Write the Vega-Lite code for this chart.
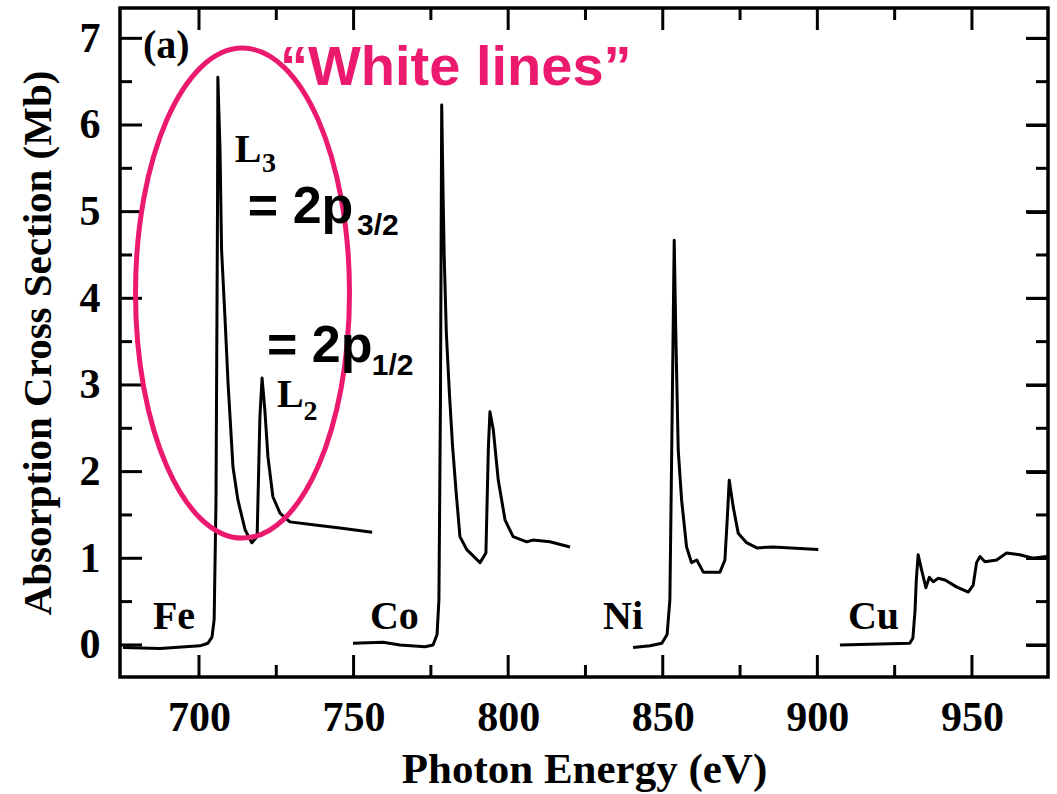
{
  "$schema": "https://vega.github.io/schema/vega-lite/v6.json",
  "width": 928,
  "height": 669,
  "autosize": {"type": "none"},
  "padding": {"left": 120, "top": 8, "right": 9, "bottom": 117},
  "background": "white",
  "config": {
    "view": {"stroke": "black", "strokeWidth": 3.5},
    "axis": {
      "grid": false,
      "domain": false,
      "ticks": false,
      "labelFont": "Liberation Serif",
      "labelFontWeight": "bold",
      "labelFontSize": 42,
      "labelColor": "black",
      "labelOverlap": false,
      "labelFlush": false,
      "titleFont": "Liberation Serif",
      "titleFontWeight": "bold",
      "titleFontSize": 43,
      "titleColor": "black"
    }
  },
  "layer": [
    {
      "data": {"values": [
        {"element": "Fe", "energy": 675.4, "value": -0.03},
        {"element": "Fe", "energy": 687.4, "value": -0.04},
        {"element": "Fe", "energy": 700.3, "value": -0.01},
        {"element": "Fe", "energy": 702.9, "value": 0.02},
        {"element": "Fe", "energy": 704.2, "value": 0.09},
        {"element": "Fe", "energy": 704.9, "value": 0.29},
        {"element": "Fe", "energy": 705.5, "value": 1.67},
        {"element": "Fe", "energy": 706.0, "value": 5.13},
        {"element": "Fe", "energy": 706.1, "value": 6.55},
        {"element": "Fe", "energy": 706.8, "value": 5.71},
        {"element": "Fe", "energy": 707.3, "value": 4.56},
        {"element": "Fe", "energy": 708.4, "value": 3.78},
        {"element": "Fe", "energy": 709.4, "value": 3.02},
        {"element": "Fe", "energy": 711.0, "value": 2.05},
        {"element": "Fe", "energy": 712.6, "value": 1.67},
        {"element": "Fe", "energy": 714.9, "value": 1.33},
        {"element": "Fe", "energy": 717.1, "value": 1.18},
        {"element": "Fe", "energy": 718.8, "value": 1.25},
        {"element": "Fe", "energy": 719.7, "value": 2.63},
        {"element": "Fe", "energy": 720.4, "value": 3.08},
        {"element": "Fe", "energy": 721.3, "value": 2.71},
        {"element": "Fe", "energy": 722.3, "value": 2.17},
        {"element": "Fe", "energy": 723.9, "value": 1.71},
        {"element": "Fe", "energy": 726.2, "value": 1.52},
        {"element": "Fe", "energy": 729.4, "value": 1.42},
        {"element": "Fe", "energy": 738.2, "value": 1.38},
        {"element": "Fe", "energy": 745.6, "value": 1.35},
        {"element": "Fe", "energy": 756.0, "value": 1.30},
        {"element": "Co", "energy": 749.8, "value": 0.02},
        {"element": "Co", "energy": 759.5, "value": 0.03},
        {"element": "Co", "energy": 765.0, "value": 0.0},
        {"element": "Co", "energy": 773.1, "value": -0.02},
        {"element": "Co", "energy": 775.7, "value": 0.0},
        {"element": "Co", "energy": 777.0, "value": 0.12},
        {"element": "Co", "energy": 777.6, "value": 0.52},
        {"element": "Co", "energy": 778.1, "value": 2.83},
        {"element": "Co", "energy": 778.5, "value": 6.23},
        {"element": "Co", "energy": 778.9, "value": 5.3},
        {"element": "Co", "energy": 779.3, "value": 4.5},
        {"element": "Co", "energy": 780.0, "value": 3.6},
        {"element": "Co", "energy": 781.0, "value": 2.9},
        {"element": "Co", "energy": 782.0, "value": 2.3},
        {"element": "Co", "energy": 783.2, "value": 1.75},
        {"element": "Co", "energy": 784.4, "value": 1.25},
        {"element": "Co", "energy": 786.6, "value": 1.10},
        {"element": "Co", "energy": 790.9, "value": 0.95},
        {"element": "Co", "energy": 792.8, "value": 1.06},
        {"element": "Co", "energy": 793.6, "value": 2.28},
        {"element": "Co", "energy": 794.1, "value": 2.69},
        {"element": "Co", "energy": 795.2, "value": 2.48},
        {"element": "Co", "energy": 796.8, "value": 1.90},
        {"element": "Co", "energy": 799.0, "value": 1.44},
        {"element": "Co", "energy": 801.6, "value": 1.25},
        {"element": "Co", "energy": 806.0, "value": 1.19},
        {"element": "Co", "energy": 808.0, "value": 1.21},
        {"element": "Co", "energy": 813.5, "value": 1.19},
        {"element": "Co", "energy": 820.0, "value": 1.13},
        {"element": "Ni", "energy": 840.4, "value": -0.03},
        {"element": "Ni", "energy": 845.9, "value": -0.01},
        {"element": "Ni", "energy": 849.7, "value": 0.02},
        {"element": "Ni", "energy": 851.4, "value": 0.12},
        {"element": "Ni", "energy": 852.3, "value": 0.52},
        {"element": "Ni", "energy": 852.9, "value": 2.25},
        {"element": "Ni", "energy": 853.7, "value": 4.67},
        {"element": "Ni", "energy": 854.2, "value": 3.63},
        {"element": "Ni", "energy": 855.0, "value": 2.25},
        {"element": "Ni", "energy": 856.1, "value": 1.67},
        {"element": "Ni", "energy": 857.7, "value": 1.13},
        {"element": "Ni", "energy": 859.3, "value": 0.95},
        {"element": "Ni", "energy": 861.0, "value": 0.98},
        {"element": "Ni", "energy": 863.1, "value": 0.84},
        {"element": "Ni", "energy": 868.5, "value": 0.84},
        {"element": "Ni", "energy": 870.1, "value": 0.98},
        {"element": "Ni", "energy": 870.9, "value": 1.48},
        {"element": "Ni", "energy": 871.5, "value": 1.90},
        {"element": "Ni", "energy": 872.8, "value": 1.59},
        {"element": "Ni", "energy": 874.4, "value": 1.29},
        {"element": "Ni", "energy": 877.1, "value": 1.18},
        {"element": "Ni", "energy": 880.4, "value": 1.12},
        {"element": "Ni", "energy": 885.7, "value": 1.13},
        {"element": "Ni", "energy": 900.3, "value": 1.10},
        {"element": "Cu", "energy": 907.3, "value": 0.0},
        {"element": "Cu", "energy": 920.2, "value": 0.01},
        {"element": "Cu", "energy": 929.9, "value": 0.02},
        {"element": "Cu", "energy": 930.9, "value": 0.08},
        {"element": "Cu", "energy": 931.6, "value": 0.40},
        {"element": "Cu", "energy": 932.0, "value": 0.75},
        {"element": "Cu", "energy": 932.6, "value": 1.04},
        {"element": "Cu", "energy": 933.7, "value": 0.87},
        {"element": "Cu", "energy": 935.1, "value": 0.66},
        {"element": "Cu", "energy": 936.2, "value": 0.78},
        {"element": "Cu", "energy": 937.5, "value": 0.73},
        {"element": "Cu", "energy": 939.1, "value": 0.77},
        {"element": "Cu", "energy": 941.3, "value": 0.75},
        {"element": "Cu", "energy": 945.0, "value": 0.67},
        {"element": "Cu", "energy": 948.8, "value": 0.61},
        {"element": "Cu", "energy": 950.4, "value": 0.69},
        {"element": "Cu", "energy": 951.5, "value": 0.95},
        {"element": "Cu", "energy": 952.6, "value": 1.02},
        {"element": "Cu", "energy": 954.2, "value": 0.96},
        {"element": "Cu", "energy": 958.0, "value": 0.98},
        {"element": "Cu", "energy": 961.2, "value": 1.06},
        {"element": "Cu", "energy": 965.5, "value": 1.04},
        {"element": "Cu", "energy": 969.7, "value": 1.00},
        {"element": "Cu", "energy": 974.1, "value": 1.02}
      ]},
      "mark": {"type": "line", "color": "black", "strokeWidth": 3, "strokeJoin": "round", "clip": true},
      "encoding": {
        "x": {
          "field": "energy", "type": "quantitative",
          "scale": {"domain": [674.45, 974.6], "nice": false, "zero": false},
          "axis": {
            "orient": "bottom",
            "title": "Photon Energy (eV)",
            "values": [700, 750, 800, 850, 900, 950],
            "format": "d",
            "labelPadding": 20,
            "titlePadding": 10
          }
        },
        "y": {
          "field": "value", "type": "quantitative",
          "scale": {"domain": [-0.37, 7.35], "nice": false, "zero": false},
          "axis": {
            "orient": "left",
            "title": "Absorption Cross Section (Mb)",
            "titleFontSize": 41,
            "titleLimit": 800,
            "values": [0, 1, 2, 3, 4, 5, 6, 7],
            "format": "d",
            "labelPadding": 20,
            "titlePadding": 20
          }
        },
        "detail": {"field": "element", "type": "nominal"}
      }
    },
    {
      "data": {"values": [{"energy": 700}, {"energy": 750}, {"energy": 800}, {"energy": 850}, {"energy": 900}, {"energy": 950}]},
      "mark": {"type": "tick", "orient": "vertical", "thickness": 3, "size": 22, "color": "black", "opacity": 1},
      "encoding": {
        "x": {"field": "energy", "type": "quantitative", "axis": null},
        "y": {"datum": -0.243, "type": "quantitative", "axis": null}
      }
    },
    {
      "data": {"values": [{"energy": 725}, {"energy": 775}, {"energy": 825}, {"energy": 875}, {"energy": 925}]},
      "mark": {"type": "tick", "orient": "vertical", "thickness": 3, "size": 12, "color": "black", "opacity": 1},
      "encoding": {
        "x": {"field": "energy", "type": "quantitative", "axis": null},
        "y": {"datum": -0.301, "type": "quantitative", "axis": null}
      }
    },
    {
      "data": {"values": [{"energy": 700}, {"energy": 750}, {"energy": 800}, {"energy": 850}, {"energy": 900}, {"energy": 950}]},
      "mark": {"type": "tick", "orient": "vertical", "thickness": 3, "size": 22, "color": "black", "opacity": 1},
      "encoding": {
        "x": {"field": "energy", "type": "quantitative", "axis": null},
        "y": {"datum": 7.223, "type": "quantitative", "axis": null}
      }
    },
    {
      "data": {"values": [{"energy": 725}, {"energy": 775}, {"energy": 825}, {"energy": 875}, {"energy": 925}]},
      "mark": {"type": "tick", "orient": "vertical", "thickness": 3, "size": 12, "color": "black", "opacity": 1},
      "encoding": {
        "x": {"field": "energy", "type": "quantitative", "axis": null},
        "y": {"datum": 7.281, "type": "quantitative", "axis": null}
      }
    },
    {
      "data": {"values": [{"value": 0}, {"value": 1}, {"value": 2}, {"value": 3}, {"value": 4}, {"value": 5}, {"value": 6}, {"value": 7}]},
      "mark": {"type": "tick", "orient": "horizontal", "thickness": 3, "size": 22, "color": "black", "opacity": 1},
      "encoding": {
        "y": {"field": "value", "type": "quantitative", "axis": null},
        "x": {"datum": 678.01, "type": "quantitative", "axis": null}
      }
    },
    {
      "data": {"values": [{"value": 0.5}, {"value": 1.5}, {"value": 2.5}, {"value": 3.5}, {"value": 4.5}, {"value": 5.5}, {"value": 6.5}]},
      "mark": {"type": "tick", "orient": "horizontal", "thickness": 3, "size": 12, "color": "black", "opacity": 1},
      "encoding": {
        "y": {"field": "value", "type": "quantitative", "axis": null},
        "x": {"datum": 676.39, "type": "quantitative", "axis": null}
      }
    },
    {
      "data": {"values": [{"value": 0}, {"value": 1}, {"value": 2}, {"value": 3}, {"value": 4}, {"value": 5}, {"value": 6}, {"value": 7}]},
      "mark": {"type": "tick", "orient": "horizontal", "thickness": 3, "size": 22, "color": "black", "opacity": 1},
      "encoding": {
        "y": {"field": "value", "type": "quantitative", "axis": null},
        "x": {"datum": 971.04, "type": "quantitative", "axis": null}
      }
    },
    {
      "data": {"values": [{"value": 0.5}, {"value": 1.5}, {"value": 2.5}, {"value": 3.5}, {"value": 4.5}, {"value": 5.5}, {"value": 6.5}]},
      "mark": {"type": "tick", "orient": "horizontal", "thickness": 3, "size": 12, "color": "black", "opacity": 1},
      "encoding": {
        "y": {"field": "value", "type": "quantitative", "axis": null},
        "x": {"datum": 972.66, "type": "quantitative", "axis": null}
      }
    },
    {
      "data": {"values": [{"energy": 714.07, "value": 4.06}]},
      "mark": {
        "type": "point",
        "shape": "M -0.4367 0 A 0.4367 1 0 1 0 0.4367 0 A 0.4367 1 0 1 0 -0.4367 0 Z",
        "size": 240100,
        "filled": false,
        "stroke": "#EC1A6E",
        "strokeWidth": 5,
        "opacity": 1
      },
      "encoding": {
        "x": {"field": "energy", "type": "quantitative", "axis": null},
        "y": {
          "field": "value", "type": "quantitative",
          "axis": {"orient": "right", "title": null, "labels": false, "ticks": true, "domain": false,
                   "offset": -22, "tickSize": 22, "tickWidth": 3, "tickColor": "black",
                   "values": [0, 1, 2, 3, 4, 5, 6, 7]}
        }
      }
    },
    {
      "data": {"values": [
        {"energy": 681.9, "value": 6.77, "label": "(a)"},
        {"energy": 685.1, "value": 0.185, "label": "Fe"},
        {"energy": 755.3, "value": 0.185, "label": "Co"},
        {"energy": 830.7, "value": 0.185, "label": "Ni"},
        {"energy": 909.9, "value": 0.185, "label": "Cu"},
        {"energy": 711.6, "value": 5.57, "label": "L"},
        {"energy": 725.2, "value": 2.75, "label": "L"}
      ]},
      "mark": {"type": "text", "font": "Liberation Serif", "fontWeight": "bold", "fontSize": 40, "align": "left", "baseline": "alphabetic", "color": "black"},
      "encoding": {
        "x": {"field": "energy", "type": "quantitative", "axis": null},
        "y": {"field": "value", "type": "quantitative", "axis": null},
        "text": {"field": "label"}
      }
    },
    {
      "data": {"values": [
        {"energy": 720.4, "value": 5.46, "label": "3"},
        {"energy": 733.8, "value": 2.60, "label": "2"}
      ]},
      "mark": {"type": "text", "font": "Liberation Serif", "fontWeight": "bold", "fontSize": 28, "align": "left", "baseline": "alphabetic", "color": "black"},
      "encoding": {
        "x": {"field": "energy", "type": "quantitative", "axis": null},
        "y": {"field": "value", "type": "quantitative", "axis": null},
        "text": {"field": "label"}
      }
    },
    {
      "data": {"values": [
        {"energy": 715.8, "value": 4.87, "label": "= 2p"},
        {"energy": 722.0, "value": 3.27, "label": "= 2p"}
      ]},
      "mark": {"type": "text", "font": "Liberation Sans", "fontWeight": "bold", "fontSize": 52, "align": "left", "baseline": "alphabetic", "color": "black"},
      "encoding": {
        "x": {"field": "energy", "type": "quantitative", "axis": null},
        "y": {"field": "value", "type": "quantitative", "axis": null},
        "text": {"field": "label"}
      }
    },
    {
      "data": {"values": [
        {"energy": 751.1, "value": 4.73, "label": "3/2"},
        {"energy": 755.9, "value": 3.12, "label": "1/2"}
      ]},
      "mark": {"type": "text", "font": "Liberation Sans", "fontWeight": "bold", "fontSize": 30, "align": "left", "baseline": "alphabetic", "color": "black"},
      "encoding": {
        "x": {"field": "energy", "type": "quantitative", "axis": null},
        "y": {"field": "value", "type": "quantitative", "axis": null},
        "text": {"field": "label"}
      }
    },
    {
      "data": {"values": [
        {"energy": 726.2, "value": 6.46, "label": "“White lines”"}
      ]},
      "mark": {"type": "text", "font": "Liberation Sans", "fontWeight": "bold", "fontSize": 56, "align": "left", "baseline": "alphabetic", "color": "#EC1A6E"},
      "encoding": {
        "x": {"field": "energy", "type": "quantitative", "axis": null},
        "y": {"field": "value", "type": "quantitative", "axis": null},
        "text": {"field": "label"}
      }
    }
  ],
  "resolve": {"axis": {"x": "independent", "y": "independent"}}
}
